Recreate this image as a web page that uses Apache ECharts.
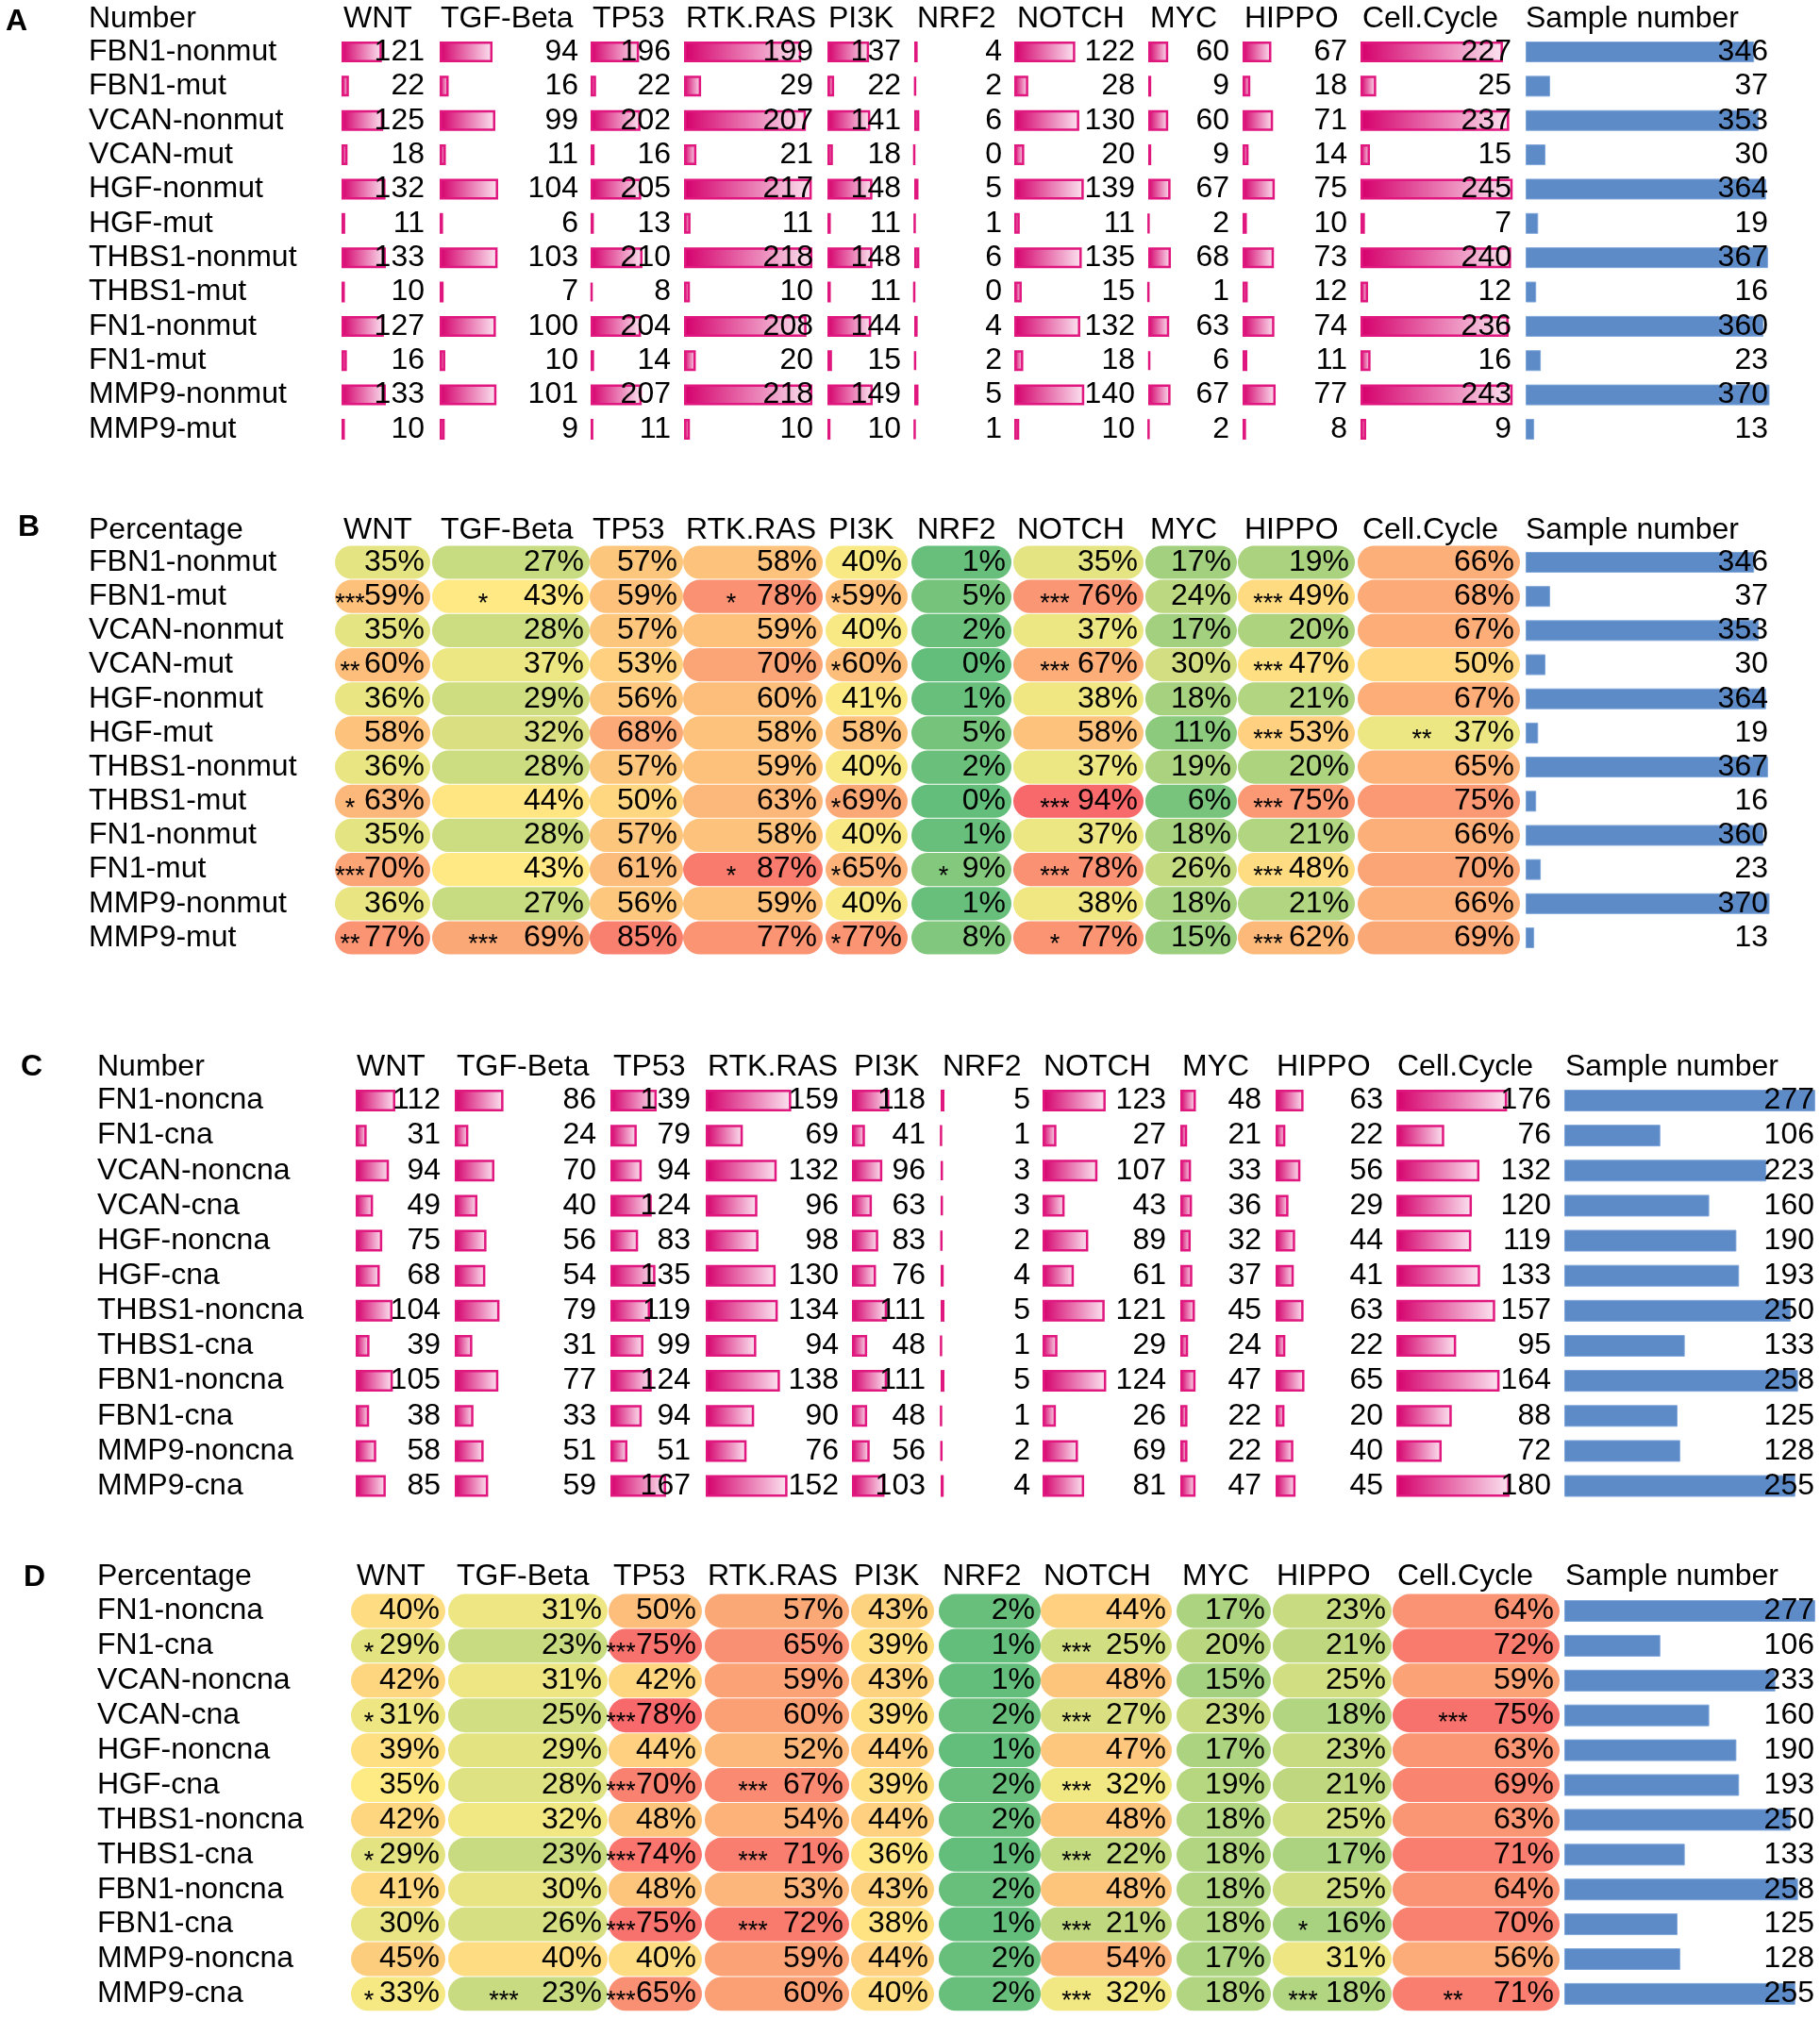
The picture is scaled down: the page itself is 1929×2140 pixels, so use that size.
<!DOCTYPE html>
<html><head><meta charset="utf-8">
<script src="https://cdn.jsdelivr.net/npm/echarts@6/dist/echarts.min.js"></script>
<style>html,body{margin:0;padding:0;background:#fff}#c{width:1929px;height:2140px}</style>
</head><body><div id="c"></div>
<script>
// ---------------- DATA ----------------
const pathways = ['WNT','TGF-Beta','TP53','RTK.RAS','PI3K','NRF2','NOTCH','MYC','HIPPO','Cell.Cycle'];
const sampleHeader = 'Sample number';
const rowsAB = ['FBN1-nonmut','FBN1-mut','VCAN-nonmut','VCAN-mut','HGF-nonmut','HGF-mut','THBS1-nonmut','THBS1-mut','FN1-nonmut','FN1-mut','MMP9-nonmut','MMP9-mut'];
const rowsCD = ['FN1-noncna','FN1-cna','VCAN-noncna','VCAN-cna','HGF-noncna','HGF-cna','THBS1-noncna','THBS1-cna','FBN1-noncna','FBN1-cna','MMP9-noncna','MMP9-cna'];

const countsA = [
  [121,94,196,199,137,4,122,60,67,227],
  [22,16,22,29,22,2,28,9,18,25],
  [125,99,202,207,141,6,130,60,71,237],
  [18,11,16,21,18,0,20,9,14,15],
  [132,104,205,217,148,5,139,67,75,245],
  [11,6,13,11,11,1,11,2,10,7],
  [133,103,210,218,148,6,135,68,73,240],
  [10,7,8,10,11,0,15,1,12,12],
  [127,100,204,208,144,4,132,63,74,236],
  [16,10,14,20,15,2,18,6,11,16],
  [133,101,207,218,149,5,140,67,77,243],
  [10,9,11,10,10,1,10,2,8,9]
];
const sampleA = [346,37,353,30,364,19,367,16,360,23,370,13];

const pctB = [
  [35,27,57,58,40,1,35,17,19,66],
  [59,43,59,78,59,5,76,24,49,68],
  [35,28,57,59,40,2,37,17,20,67],
  [60,37,53,70,60,0,67,30,47,50],
  [36,29,56,60,41,1,38,18,21,67],
  [58,32,68,58,58,5,58,11,53,37],
  [36,28,57,59,40,2,37,19,20,65],
  [63,44,50,63,69,0,94,6,75,75],
  [35,28,57,58,40,1,37,18,21,66],
  [70,43,61,87,65,9,78,26,48,70],
  [36,27,56,59,40,1,38,18,21,66],
  [77,69,85,77,77,8,77,15,62,69]
];
const starsB = [
  ['','','','','','','','','',''],
  ['***','*','','*','*','','***','','***',''],
  ['','','','','','','','','',''],
  ['**','','','','*','','***','','***',''],
  ['','','','','','','','','',''],
  ['','','','','','','','','***','**'],
  ['','','','','','','','','',''],
  ['*','','','','*','','***','','***',''],
  ['','','','','','','','','',''],
  ['***','','','*','*','*','***','','***',''],
  ['','','','','','','','','',''],
  ['**','***','','','*','','*','','***','']
];
const sampleB = [346,37,353,30,364,19,367,16,360,23,370,13];

const countsC = [
  [112,86,139,159,118,5,123,48,63,176],
  [31,24,79,69,41,1,27,21,22,76],
  [94,70,94,132,96,3,107,33,56,132],
  [49,40,124,96,63,3,43,36,29,120],
  [75,56,83,98,83,2,89,32,44,119],
  [68,54,135,130,76,4,61,37,41,133],
  [104,79,119,134,111,5,121,45,63,157],
  [39,31,99,94,48,1,29,24,22,95],
  [105,77,124,138,111,5,124,47,65,164],
  [38,33,94,90,48,1,26,22,20,88],
  [58,51,51,76,56,2,69,22,40,72],
  [85,59,167,152,103,4,81,47,45,180]
];
const sampleC = [277,106,223,160,190,193,250,133,258,125,128,255];

const pctD = [
  [40,31,50,57,43,2,44,17,23,64],
  [29,23,75,65,39,1,25,20,21,72],
  [42,31,42,59,43,1,48,15,25,59],
  [31,25,78,60,39,2,27,23,18,75],
  [39,29,44,52,44,1,47,17,23,63],
  [35,28,70,67,39,2,32,19,21,69],
  [42,32,48,54,44,2,48,18,25,63],
  [29,23,74,71,36,1,22,18,17,71],
  [41,30,48,53,43,2,48,18,25,64],
  [30,26,75,72,38,1,21,18,16,70],
  [45,40,40,59,44,2,54,17,31,56],
  [33,23,65,60,40,2,32,18,18,71]
];
const starsD = [
  ['','','','','','','','','',''],
  ['*','','***','','','','***','','',''],
  ['','','','','','','','','',''],
  ['*','','***','','','','***','','','***'],
  ['','','','','','','','','',''],
  ['','','***','***','','','***','','',''],
  ['','','','','','','','','',''],
  ['*','','***','***','','','***','','',''],
  ['','','','','','','','','',''],
  ['','','***','***','','','***','','*',''],
  ['','','','','','','','','',''],
  ['*','***','***','','','','***','','***','**']
];
const sampleD = [277,106,233,160,190,193,250,133,258,125,128,255];

// ---------------- STYLE / LAYOUT ----------------
const FONT = '"Liberation Sans", Arial, Helvetica, sans-serif';
const FS = 32;
const heatColors = ['#63BE7B','#FFEB84','#F8696B'];
const headAB = [364,467,628,727,878,972,1078,1219,1319,1444,1617];
const headCD = [378,484,650,750,905,999,1106,1253,1353,1481,1659];

const panels = [
  {kind:'count', letter:'A', letterX:6, letterY:23, title:'Number', labelX:94, headY:20, row0:55, step:36.36,
   rows:rowsAB, values:countsA, sample:sampleA, headX:headAB, barW:22,
   colL:[362,466,626,725,877,969,1075,1217,1317,1442,1617],
   colR:[450,613,711,862,955,1062,1203,1303,1428,1602,1875],
   ppu:[.353,.596,.262,.624,.322,.9,.53,.353,.455,.665,.70]},
  {kind:'pct', letter:'B', letterX:19, letterY:559, title:'Percentage', labelX:94, headY:562, row0:596, step:36.18,
   rows:rowsAB, values:pctB, stars:starsB, sample:sampleB, headX:headAB, barW:22, mid:42,
   colL:[355,458,625,724,875,966,1074,1214,1312,1439,1617],
   colR:[456,625,724,872,962,1072,1212,1311,1436,1611,1875],
   starX:[16,54,14,51,11,34,44,20,32,68], samplePpu:.70},
  {kind:'count', letter:'C', letterX:22, letterY:1131, title:'Number', labelX:103, headY:1131, row0:1166.5, step:37.14,
   rows:rowsCD, values:countsC, sample:sampleC, headX:headCD, barW:23,
   colL:[377,482,647,748,903,997,1105,1251,1352,1480,1658],
   colR:[467,632,732,889,981,1092,1236,1337,1466,1644,1924],
   ppu:[.375,.6,.353,.57,.335,.8,.544,.344,.47,.667,.96]},
  {kind:'pct', letter:'D', letterX:25, letterY:1672, title:'Percentage', labelX:103, headY:1671, row0:1707.5, step:36.9,
   rows:rowsCD, values:pctD, stars:starsD, sample:sampleD, headX:headCD, barW:23, mid:35,
   colL:[372,475,645,747,902,995,1103,1247,1349,1476,1658],
   colR:[472,644,744,900,990,1103,1242,1347,1475,1653,1924],
   starX:[19,59,13,51,11,34,38,20,32,64], samplePpu:.96}
];

function heatColor(v, lo, mid, hi) {
  let t = v <= mid ? 0.5 * (v - lo) / (mid - lo) : 0.5 + 0.5 * (v - mid) / (hi - mid);
  t = Math.max(0, Math.min(1, t));
  return echarts.color.lerp(t, heatColors);
}

const pinkFill = () => new echarts.graphic.LinearGradient(0, 0, 1, 0, [
  {offset: 0, color: '#D5006C'}, {offset: 1, color: '#FBE4F0'}]);

const grids = [], xAxes = [], yAxes = [], series = [], graphics = [];

function numberLabelSeries(g, vals, pad) {
  return {
    type: 'custom', xAxisIndex: g, yAxisIndex: g, z: 10, silent: true,
    data: vals.map((v, i) => [v, i]), encode: {x: 0, y: 1},
    renderItem: (params, api) => {
      const cs = params.coordSys;
      const y = api.coord([0, api.value(1)])[1];
      return {type: 'text', style: {text: String(api.value(0)), x: cs.x + cs.width - pad, y: y,
        align: 'right', verticalAlign: 'middle', font: FS + 'px ' + FONT, fill: '#000'}};
    }
  };
}

panels.forEach(p => {
  const top = p.row0 - p.step / 2;
  const height = p.step * 12;
  graphics.push({type: 'text', x: p.letterX, y: p.letterY, style: {text: p.letter, font: 'bold 32px ' + FONT, fill: '#000', verticalAlign: 'middle', align: 'left'}});
  graphics.push({type: 'text', x: p.labelX, y: p.headY, style: {text: p.title, font: FS + 'px ' + FONT, fill: '#000', verticalAlign: 'middle', align: 'left'}});
  const heads = pathways.concat([sampleHeader]);
  heads.forEach((h, c) => graphics.push({type: 'text', x: p.headX[c], y: p.headY,
    style: {text: h, font: FS + 'px ' + FONT, fill: '#000', verticalAlign: 'middle', align: 'left'}}));

  let lo = Infinity, hi = -Infinity;
  if (p.kind === 'pct') p.values.forEach(r => r.forEach(v => { lo = Math.min(lo, v); hi = Math.max(hi, v); }));

  for (let c = 0; c < 11; c++) {
    const g = grids.length;
    const left = p.colL[c], right = p.colR[c];
    const width = right - left;
    grids.push({left: left, top: top, width: width, height: height});
    const isSample = c === 10;
    const ppu = p.kind === 'count' ? p.ppu[c] : (isSample ? p.samplePpu : 1);
    xAxes.push({type: 'value', gridIndex: g, min: 0, max: p.kind === 'pct' && !isSample ? 100 : width / ppu, show: false});
    const yA = {type: 'category', gridIndex: g, data: p.rows, inverse: true,
      axisLine: {show: false}, axisTick: {show: false}, splitLine: {show: false}};
    if (c === 0) {
      yA.axisLabel = {show: true, interval: 0, align: 'left', margin: left - p.labelX, fontSize: FS, fontFamily: FONT, color: '#000'};
    } else {
      yA.axisLabel = {show: false};
    }
    yAxes.push(yA);

    if (isSample) {
      series.push({type: 'bar', xAxisIndex: g, yAxisIndex: g, data: p.sample, barWidth: p.barW, z: 2,
        itemStyle: {color: '#5D8BC8', borderColor: '#7FA5D9', borderWidth: 1}});
      series.push(numberLabelSeries(g, p.sample, 1));
      continue;
    }
    const colVals = p.values.map(r => r[c]);
    if (p.kind === 'count') {
      series.push({type: 'bar', xAxisIndex: g, yAxisIndex: g, data: colVals, barWidth: p.barW, z: 2,
        itemStyle: {color: pinkFill(), borderColor: '#E0177F', borderWidth: 2.5}});
      series.push(numberLabelSeries(g, colVals, 0));
    } else {
      const starCol = p.stars.map(r => r[c]);
      const sx = p.starX[c], mid = p.mid;
      series.push({
        type: 'custom', xAxisIndex: g, yAxisIndex: g, z: 2, silent: true,
        data: colVals.map((v, i) => [v, i]), encode: {x: 0, y: 1},
        renderItem: (params, api) => {
          const cs = params.coordSys;
          const v = api.value(0);
          const y = api.coord([0, api.value(1)])[1];
          const bh = api.size([0, 1])[1] - 1;
          const children = [
            {type: 'rect', shape: {x: cs.x, y: y - bh / 2, width: cs.width, height: bh, r: bh / 2},
             style: {fill: heatColor(v, lo, mid, hi)}},
            {type: 'text', style: {text: v + '%', x: cs.x + cs.width - 6, y: y, align: 'right', verticalAlign: 'middle',
             font: FS + 'px ' + FONT, fill: '#000'}}
          ];
          const s = starCol[params.dataIndex];
          if (s) children.push({type: 'text', style: {text: s, x: cs.x + sx, y: y + 8, align: 'center', verticalAlign: 'middle',
             font: '27px ' + FONT, fill: '#000'}});
          return {type: 'group', children: children};
        }
      });
    }
  }
});

const chart = echarts.init(document.getElementById('c'), null, {renderer: 'canvas', width: 1929, height: 2140});
chart.setOption({
  animation: false,
  backgroundColor: '#ffffff',
  grid: grids, xAxis: xAxes, yAxis: yAxes, series: series, graphic: graphics
});
</script>
</body></html>
